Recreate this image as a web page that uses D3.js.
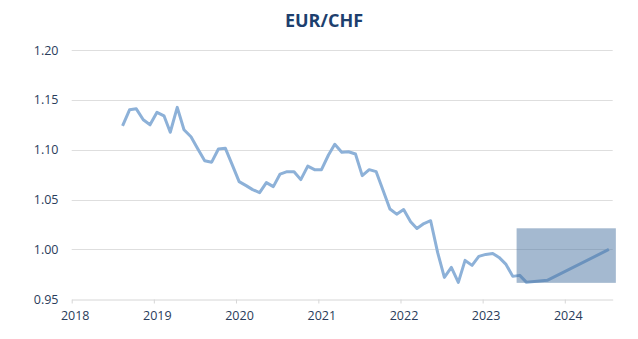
<!DOCTYPE html>
<html>
<head>
<meta charset="utf-8">
<script src="https://cdn.jsdelivr.net/npm/d3@7"></script>
<style>
  html, body { margin: 0; padding: 0; background: #ffffff; }
  svg { display: block; }
</style>
</head>
<body>
<div id="chart"></div>
<script>
// ---- data ----
const title = "EUR/CHF";
const months = [
  "2018-08","2018-09","2018-10","2018-11","2018-12",
  "2019-01","2019-02","2019-03","2019-04","2019-05","2019-06","2019-07","2019-08","2019-09","2019-10","2019-11","2019-12",
  "2020-01","2020-02","2020-03","2020-04","2020-05","2020-06","2020-07","2020-08","2020-09","2020-10","2020-11","2020-12",
  "2021-01","2021-02","2021-03","2021-04","2021-05","2021-06","2021-07","2021-08","2021-09","2021-10","2021-11","2021-12",
  "2022-01","2022-02","2022-03","2022-04","2022-05","2022-06","2022-07","2022-08","2022-09","2022-10","2022-11","2022-12",
  "2023-01","2023-02","2023-03","2023-04","2023-05","2023-06",
  "2023-07","2023-10","2024-07"
];
const eurchf = [
  1.124, 1.140, 1.141, 1.130, 1.125,
  1.1375, 1.134, 1.1175, 1.1425, 1.120, 1.113, 1.101, 1.089, 1.0875, 1.1007, 1.1014, 1.085,
  1.068, 1.064, 1.060, 1.057, 1.067, 1.063, 1.0756, 1.078, 1.078, 1.070, 1.0836, 1.080,
  1.080, 1.0947, 1.1054, 1.0974, 1.098, 1.0957, 1.074, 1.080, 1.078, 1.0596, 1.0405, 1.0354,
  1.040, 1.0278, 1.021, 1.026, 1.0288, 0.997, 0.972, 0.982, 0.967, 0.989, 0.984, 0.993,
  0.995, 0.996, 0.992, 0.985, 0.973, 0.974,
  0.967, 0.969, 1.000
];
const forecastBoxDates = ["2023-06-01", "2024-08-15"];
const forecastBoxValues = [0.9665, 1.0212];
const yTicks = [0.95, 1.00, 1.05, 1.10, 1.15, 1.20];
const yearTicks = [2018, 2019, 2020, 2021, 2022, 2023, 2024];

// ---- layout ----
const W = 638, H = 339;
const svg = d3.select("#chart").append("svg").attr("width", W).attr("height", H);

const parseMonth = d3.timeParse("%Y-%m");
const parseDay = d3.timeParse("%Y-%m-%d");
const data = months.map((m, i) => {
  const d = parseMonth(m);
  return { date: new Date(d.getFullYear(), d.getMonth(), 15), value: eurchf[i] };
});

const x = d3.scaleTime()
  .domain([new Date(2018, 0, 1), new Date(2024, 7, 1)])
  .range([71.7, 612.7]);
const y = d3.scaleLinear().domain([0.95, 1.20]).range([299.3, 50]);

const font = "'Open Sans', sans-serif";
const textColor = "#2a3c5a";

// gridlines
svg.append("g").selectAll("line")
  .data(yTicks.filter(t => t > 0.95))
  .join("line")
  .attr("x1", x.range()[0]).attr("x2", x.range()[1])
  .attr("y1", d => Math.round(y(d)) + 0.5).attr("y2", d => Math.round(y(d)) + 0.5)
  .attr("stroke", "#dedede").attr("stroke-width", 1);

// y labels
svg.append("g").selectAll("text")
  .data(yTicks)
  .join("text")
  .attr("x", 58.5).attr("y", d => y(d))
  .attr("dy", "0.36em")
  .attr("text-anchor", "end")
  .attr("font-family", font).attr("font-size", 12.5)
  .attr("fill", textColor)
  .text(d => d3.format(".2f")(d));

// x axis
const xAxis = d3.axisBottom(x)
  .tickValues(yearTicks.map(yr => new Date(yr, 0, 1)))
  .tickFormat(d3.timeFormat("%Y"))
  .tickSize(4)
  .tickSizeOuter(0);
const gx = svg.append("g").attr("transform", "translate(0," + 299.5 + ")").call(xAxis);
gx.select(".domain").attr("stroke", "#d6d6d6");
gx.selectAll(".tick line").attr("stroke", "#d6d6d6");
gx.selectAll(".tick text")
  .attr("font-family", font).attr("font-size", 12.5)
  .attr("fill", textColor).attr("dx", 3).attr("y", 12);

// line
const line = d3.line().x(d => x(d.date)).y(d => y(d.value));
svg.append("path")
  .datum(data)
  .attr("d", line)
  .attr("fill", "none")
  .attr("stroke", "#8db1d8")
  .attr("stroke-width", 3)
  .attr("stroke-linejoin", "round");

// forecast range box
const bx0 = x(parseDay(forecastBoxDates[0])), bx1 = x(parseDay(forecastBoxDates[1]));
const by0 = y(forecastBoxValues[1]), by1 = y(forecastBoxValues[0]);
svg.append("rect")
  .attr("x", bx0).attr("y", by0)
  .attr("width", bx1 - bx0).attr("height", by1 - by0)
  .attr("fill", "#4a74a2").attr("fill-opacity", 0.5);

// title
svg.append("text")
  .attr("x", 324).attr("y", 26.5)
  .attr("text-anchor", "middle")
  .attr("font-family", font).attr("font-weight", 700).attr("font-size", 18)
  .attr("fill", "#1d3f6e")
  .text(title);
</script>
</body>
</html>
